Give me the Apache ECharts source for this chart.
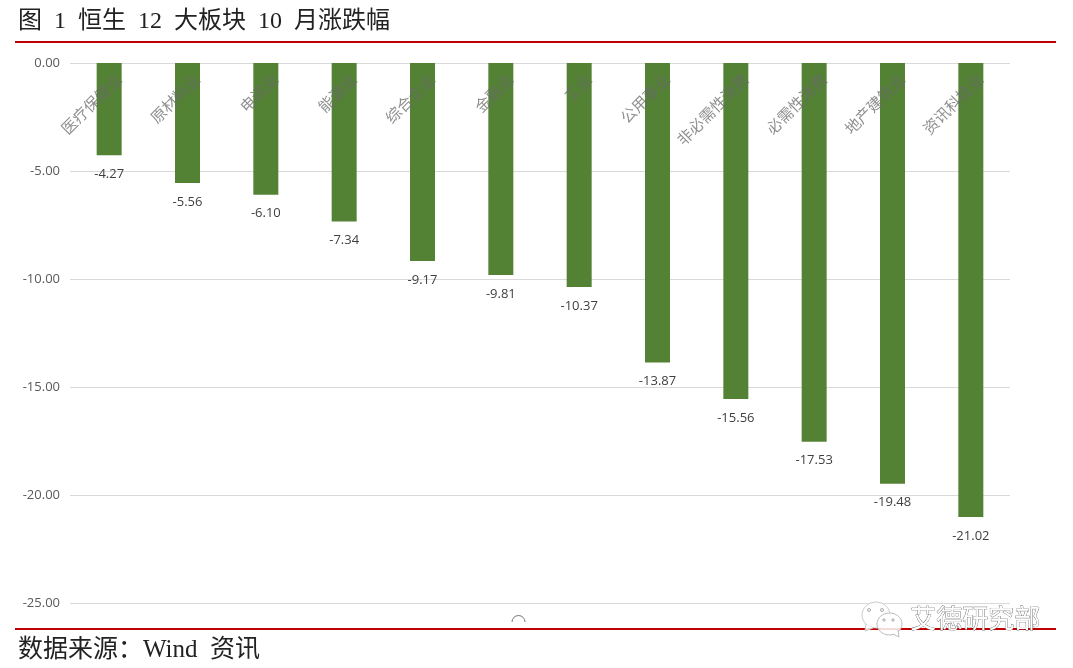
<!DOCTYPE html>
<html><head><meta charset="utf-8">
<style>html,body{margin:0;padding:0;background:#fff}#c{width:1073px;height:668px}</style>
<script src="https://cdn.jsdelivr.net/npm/echarts@6/dist/echarts.min.js"></script></head>
<body><div id="c"></div>
<script>
const categories = ['医疗保健业','原材料业','电讯业','能源业','综合企业','金融业','工业','公用事业','非必需性消费','必需性消费','地产建筑业','资讯科技业'];
const changes = [-4.27,-5.56,-6.10,-7.34,-9.17,-9.81,-10.37,-13.87,-15.56,-17.53,-19.48,-21.02];
const titleText = '图  1  恒生  12  大板块  10  月涨跌幅';
const sourceText = '数据来源\uFF1AWind  资讯';
const watermarkText = '艾德研究部';
const serif = '"Liberation Serif","Noto Sans CJK SC",serif';
const cjkSans = '"Noto Sans CJK SC",sans-serif';
const latin = '"Open Sans",sans-serif';
const chart = echarts.init(document.getElementById('c'), null, {renderer:'canvas'});
chart.setOption({
  animation:false,
  backgroundColor:'#fff',
  grid:{left:70,right:63,top:63,bottom:65},
  xAxis:{type:'category',position:'top',data:categories,z:5,
    axisLine:{show:false},axisTick:{show:false},
    axisLabel:{inside:true,rotate:45,interval:0,color:'rgba(105,105,105,.75)',fontSize:15.5,lineHeight:27,fontFamily:cjkSans,margin:4,align:'right',verticalAlign:'top'}},
  yAxis:{type:'value',min:-25,max:0,interval:5,
    axisLine:{show:false},axisTick:{show:false},
    splitLine:{lineStyle:{color:'#d9d9d9',width:1}},
    axisLabel:{formatter:v=>v.toFixed(2),color:'#595959',fontSize:13,fontFamily:latin,margin:10,padding:[2,0,0,0]}},
  series:[{type:'bar',data:changes,barWidth:25,
    itemStyle:{color:'#548235'},
    label:{show:true,position:'bottom',distance:12.5,formatter:p=>p.value.toFixed(2),color:'#404040',fontSize:13,fontFamily:latin}}],
  graphic:[
    {type:'line',z:10,shape:{x1:15,y1:42,x2:1056,y2:42},style:{stroke:'#c00000',lineWidth:2}},
    {type:'line',z:10,shape:{x1:15,y1:629,x2:1056,y2:629},style:{stroke:'#c00000',lineWidth:2}},
    {type:'text',left:18,top:10,style:{text:titleText,font:'24px '+serif,fill:'#222'}},
    {type:'text',left:18,top:638,style:{text:sourceText,font:'25px '+serif,fill:'#222'}},
    {type:'text',left:910,top:605,z:12,style:{text:watermarkText,font:'26px '+cjkSans,fill:'#fff',stroke:'#555',lineWidth:0.7}},
    {type:'ellipse',z:11,shape:{cx:876,cy:615,rx:14,ry:13},style:{fill:'rgba(255,255,255,.85)',stroke:'#ccc',lineWidth:1}},
    {type:'polyline',z:11,shape:{points:[[866,624],[865,631],[873,628]]},style:{fill:'rgba(255,255,255,.85)',stroke:'#ccc',lineWidth:1}},
    {type:'ellipse',z:11,shape:{cx:889.5,cy:624,rx:12.5,ry:11},style:{fill:'rgba(255,255,255,.85)',stroke:'#bbb',lineWidth:1}},
    {type:'polyline',z:11,shape:{points:[[893,634],[899,637],[898,630]]},style:{fill:'#fff',stroke:'#bbb',lineWidth:1}},
    {type:'circle',z:12,shape:{cx:869,cy:610,r:1.5},style:{fill:'#fff',stroke:'#888',lineWidth:.7}},
    {type:'circle',z:12,shape:{cx:882,cy:610,r:1.5},style:{fill:'#fff',stroke:'#888',lineWidth:.7}},
    {type:'circle',z:12,shape:{cx:884,cy:620,r:1.2},style:{fill:'#fff',stroke:'#888',lineWidth:.7}},
    {type:'circle',z:12,shape:{cx:893,cy:620,r:1.2},style:{fill:'#fff',stroke:'#888',lineWidth:.7}},
    {type:'arc',z:11,shape:{cx:518.5,cy:622,r:6.5,startAngle:Math.PI,endAngle:Math.PI*2},style:{stroke:'#777',lineWidth:1,fill:null}}
  ]
});
</script></body></html>
